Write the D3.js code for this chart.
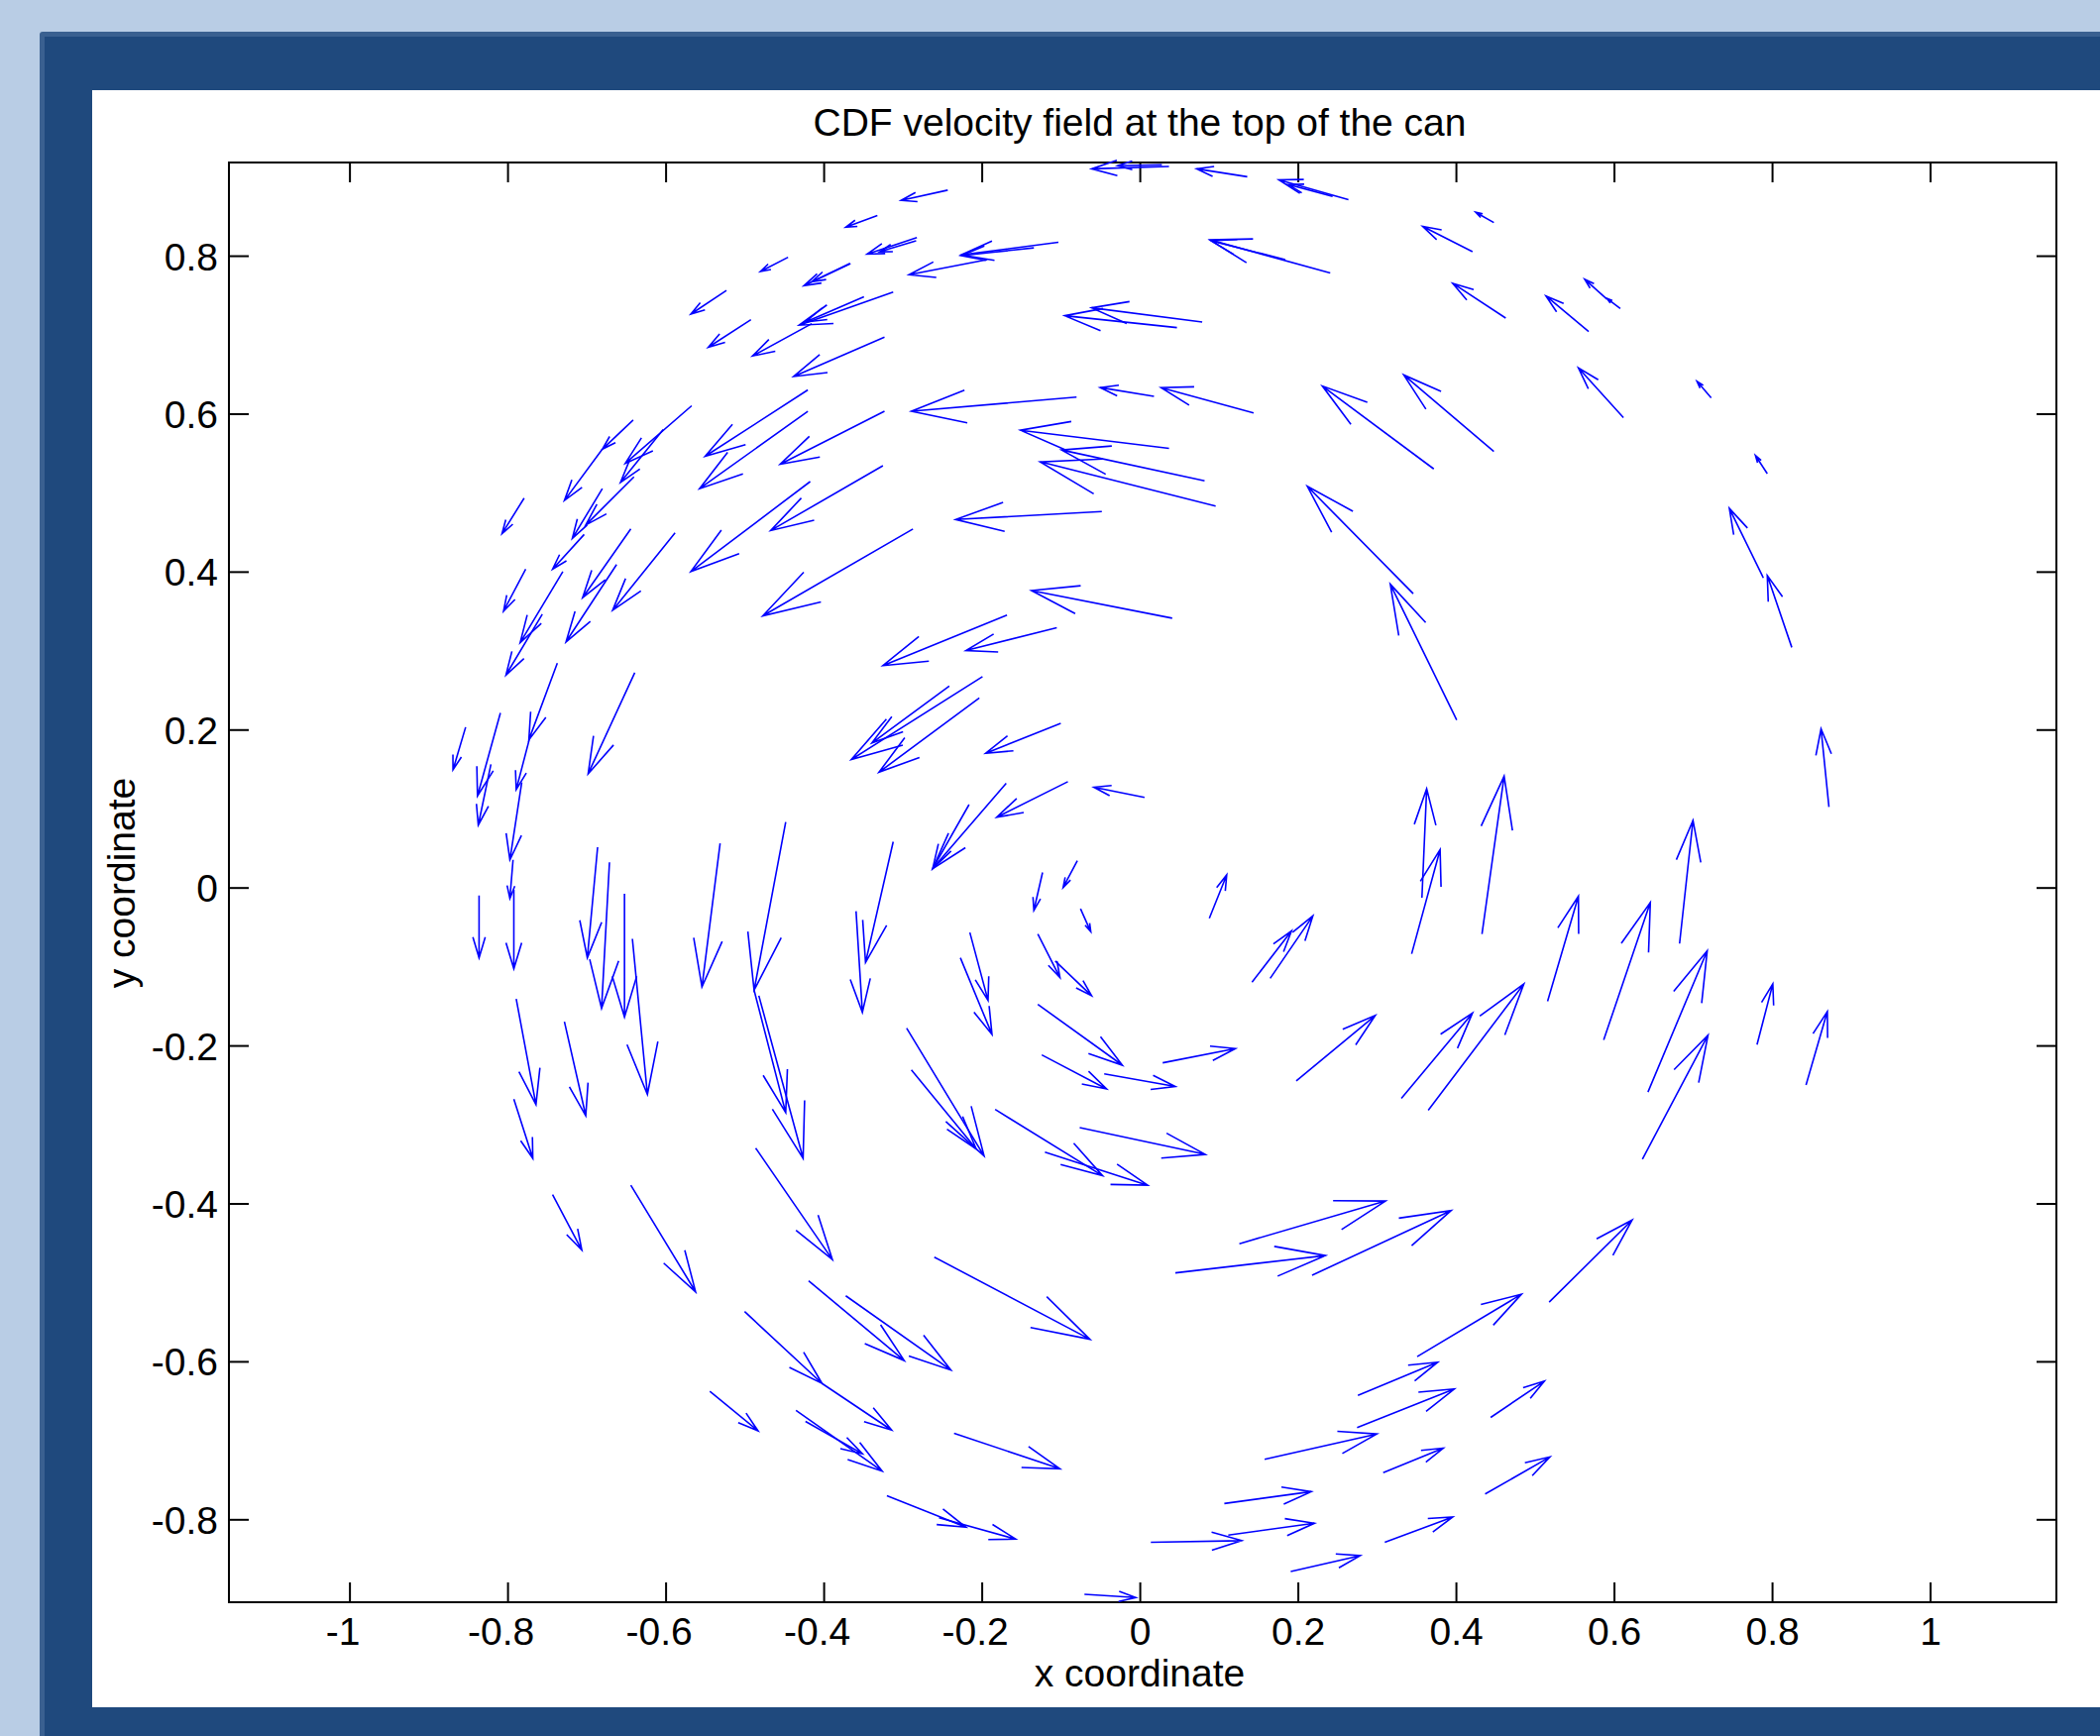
<!DOCTYPE html>
<html>
<head>
<meta charset="utf-8">
<script src="https://cdn.jsdelivr.net/npm/d3@7"></script>
<style>
  html, body { margin: 0; padding: 0; background: #b9cde5; }
  svg { display: block; }
</style>
</head>
<body>
<div id="chart"></div>
<script>
// Quiver data: base point (x, y) and vector (u, v), plot units
const xs = [
  -0.332, -0.282, -0.283, -0.445, -0.366, -0.367, -0.523, -0.492, -0.312, -0.349,
  -0.415, -0.323, -0.420, -0.420, -0.323, -0.325, -0.417, -0.287, -0.641, -0.680,
  -0.567, -0.603, -0.640, -0.680, -0.703, -0.730, -0.756, -0.779, -0.777, -0.644,
  -0.662, -0.588,
  0.037, 0.028, 0.136, 0.264, 0.244, -0.243, -0.103, -0.134, -0.193, 0.241,
  0.184, 0.079, 0.047, 0.372, 0.144, 0.018, -0.080, 0.037, 0.082, 0.096,
  -0.048, 0.346, 0.041, -0.168, -0.105,
  0.448, 0.421, 0.463, 0.568, 0.608, 0.591, 0.448, 0.612, 0.723, 0.794,
  0.789, 0.825, 0.401,
  -0.737, -0.853, -0.809, -0.821, -0.771, -0.782, -0.793, -0.792, -0.836, -0.639,
  -0.686, -0.671, -0.652, -0.642, -0.531, -0.448, -0.312, -0.359, -0.488, -0.482,
  -0.789, -0.728, -0.792, -0.199, -0.203, -0.241,
  -0.100, -0.091, 0.006, -0.169, -0.216, -0.123, -0.079, -0.075, -0.129, -0.107,
  -0.215, -0.227, -0.129, -0.124, -0.045, 0.029, 0.088, 0.142, 0.165, 0.198,
  -0.295, -0.289, -0.183, -0.076, -0.120,
  0.357, 0.344, 0.433, 0.516, 0.587, 0.683, 0.643, 0.636, 0.781, 0.843,
  0.872, 0.331, 0.365,
  -0.743, -0.644, -0.486, -0.500, -0.419, -0.372, -0.402, -0.544, -0.435, -0.423,
  -0.320, -0.254,
  0.126, 0.045, 0.218, -0.260, -0.235, 0.158, 0.276, 0.275, 0.107, 0.014,
  0.112, 0.191, -0.070,
  0.518, 0.351, 0.444, 0.308, 0.437, 0.310
];
const ys = [
  0.851, 0.823, 0.819, 0.798, 0.790, 0.790, 0.756, 0.719, 0.754, 0.748,
  0.714, 0.697, 0.630, 0.603, 0.603, 0.534, 0.514, 0.454, 0.592, 0.555,
  0.610, 0.580, 0.520, 0.505, 0.447, 0.400, 0.346, 0.493, 0.403, 0.454,
  0.409, 0.449,
  0.913, 0.915, 0.900, 0.871, 0.875, 0.883, 0.817, 0.810, 0.795, 0.778,
  0.795, 0.716, 0.709, 0.530, 0.601, 0.622, 0.621, 0.556, 0.515, 0.483,
  0.476, 0.372, 0.341, 0.345, 0.329,
  0.842, 0.805, 0.721, 0.704, 0.733, 0.745, 0.552, 0.595, 0.620, 0.524,
  0.392, 0.304, 0.212,
  0.284, 0.203, 0.221, 0.156, 0.193, 0.133, 0.035, -0.003, -0.010, 0.272,
  0.051, 0.032, -0.008, -0.065, 0.056, 0.083, 0.058, -0.030, -0.130, -0.137,
  -0.141, -0.170, -0.268, 0.267, 0.240, 0.255,
  0.208, 0.134, 0.114, 0.132, 0.105, 0.019, 0.034, -0.027, -0.059, -0.093,
  -0.057, -0.089, -0.148, -0.212, -0.236, -0.222, -0.039, -0.120, -0.115, -0.245,
  -0.178, -0.231, -0.281, -0.304, -0.335,
  -0.013, -0.084, -0.059, -0.144, -0.193, -0.071, -0.259, -0.344, -0.199, -0.250,
  0.102, -0.267, -0.282,
  -0.389, -0.377, -0.330, -0.537, -0.498, -0.517, -0.628, -0.638, -0.662, -0.676,
  -0.770, -0.798,
  -0.451, -0.488, -0.491, -0.468, -0.691, -0.724, -0.643, -0.684, -0.780, -0.829,
  -0.820, -0.866, -0.895,
  -0.525, -0.594, -0.671, -0.741, -0.768, -0.829
];
const us = [
  -0.040, -0.063, -0.046, -0.035, -0.059, -0.048, -0.045, -0.054, -0.119, -0.074,
  -0.075, -0.115, -0.130, -0.137, -0.132, -0.142, -0.151, -0.190, -0.039, -0.048,
  -0.084, -0.054, -0.061, -0.038, -0.040, -0.054, -0.046, -0.028, -0.028, -0.061,
  -0.064, -0.079,
  -0.098, -0.056, -0.064, -0.088, -0.056, -0.059, -0.123, -0.092, -0.099, -0.152,
  -0.094, -0.140, -0.142, -0.141, -0.117, -0.068, -0.209, -0.188, -0.181, -0.222,
  -0.185, -0.134, -0.178, -0.157, -0.115,
  -0.023, -0.063, -0.067, -0.054, -0.017, -0.028, -0.114, -0.057, -0.018, -0.015,
  -0.043, -0.031, -0.084,
  -0.036, -0.016, -0.029, -0.016, -0.018, -0.015, -0.004, 0.000, 0.000, -0.059,
  -0.013, -0.010, 0.000, 0.019, -0.023, -0.040, -0.035, 0.008, 0.040, 0.056,
  0.025, 0.027, 0.024, -0.166, -0.127, -0.098,
  -0.095, -0.090, -0.064, -0.093, -0.046, -0.011, -0.018, 0.013, 0.028, 0.046,
  0.023, 0.040, 0.107, 0.082, 0.090, 0.092, 0.022, 0.050, 0.054, 0.100,
  0.098, 0.082, 0.136, 0.159, 0.130,
  0.006, 0.036, 0.028, 0.039, 0.059, 0.017, 0.075, 0.083, 0.020, 0.027,
  -0.010, 0.090, 0.121,
  0.037, 0.082, 0.097, 0.098, 0.121, 0.133, 0.088, 0.061, 0.109, 0.072,
  0.100, 0.097,
  0.185, 0.190, 0.176, 0.197, 0.134, 0.142, 0.101, 0.123, 0.110, 0.115,
  0.109, 0.088, 0.065,
  0.105, 0.132, 0.068, 0.076, 0.082, 0.086
];
const vs = [
  -0.015, -0.021, -0.014, -0.018, -0.028, -0.023, -0.030, -0.035, -0.042, -0.032,
  -0.041, -0.050, -0.084, -0.098, -0.067, -0.082, -0.114, -0.110, -0.037, -0.065,
  -0.073, -0.067, -0.061, -0.063, -0.044, -0.090, -0.077, -0.045, -0.053, -0.087,
  -0.098, -0.098,
  -0.003, -0.001, 0.010, 0.025, 0.015, -0.013, -0.016, -0.010, -0.019, 0.042,
  0.024, 0.018, 0.015, 0.105, 0.032, 0.011, -0.018, 0.023, 0.039, 0.056,
  -0.010, 0.136, 0.035, -0.064, -0.029,
  0.013, 0.032, 0.044, 0.045, 0.013, 0.025, 0.097, 0.063, 0.021, 0.023,
  0.088, 0.091, 0.172,
  -0.097, -0.054, -0.105, -0.077, -0.069, -0.098, -0.049, -0.100, -0.079, -0.128,
  -0.140, -0.185, -0.156, -0.197, -0.182, -0.213, -0.153, -0.128, -0.155, -0.206,
  -0.134, -0.119, -0.075, -0.105, -0.094, -0.072,
  -0.038, -0.045, 0.013, -0.108, -0.081, -0.048, -0.034, -0.029, -0.055, -0.044,
  -0.086, -0.097, -0.077, -0.043, -0.016, 0.018, 0.055, 0.065, 0.079, 0.083,
  -0.162, -0.100, -0.084, -0.034, -0.042,
  0.138, 0.132, 0.200, 0.133, 0.174, 0.156, 0.179, 0.157, 0.077, 0.093,
  0.099, 0.108, 0.160,
  -0.070, -0.135, -0.141, -0.091, -0.101, -0.094, -0.059, -0.050, -0.077, -0.041,
  -0.040, -0.027,
  0.054, 0.022, 0.082, -0.104, -0.045, 0.032, 0.042, 0.049, 0.015, 0.002,
  0.015, 0.020, -0.004,
  0.104, 0.079, 0.046, 0.031, 0.047, 0.032
];

const xTicks = [-1, -0.8, -0.6, -0.4, -0.2, 0, 0.2, 0.4, 0.6, 0.8, 1];
const yTicks = [-0.8, -0.6, -0.4, -0.2, 0, 0.2, 0.4, 0.6, 0.8];

const width = 2119, height = 1752;
const font = '"Liberation Sans", Arial, Helvetica, sans-serif';
const fontSize = 39;
const box = { left: 231, right: 2075, top: 164, bottom: 1617 };

const svg = d3.select('#chart').append('svg')
    .attr('width', width)
    .attr('height', height);

// Slide-like frame around the figure
svg.append('rect')
    .attr('width', width).attr('height', height)
    .attr('fill', '#b9cde5');
svg.append('rect')
    .attr('x', 40).attr('y', 32)
    .attr('width', width).attr('height', height)
    .attr('rx', 3)
    .attr('fill', '#3a6090');
svg.append('rect')
    .attr('x', 45).attr('y', 37)
    .attr('width', width).attr('height', height)
    .attr('fill', '#1f497d');
svg.append('rect')
    .attr('x', 93).attr('y', 91)
    .attr('width', width - 93).attr('height', 1723 - 91)
    .attr('fill', '#ffffff');

// Scales (axis equal)
const x = d3.scaleLinear()
    .domain([-1.1525, 1.1598])
    .range([box.left, box.right]);
const y = d3.scaleLinear()
    .domain([-0.905, 0.918])
    .range([box.bottom, box.top]);

const fmt = d => String(+d.toFixed(1));

function styleAxis(g) {
    g.select('.domain').remove();
    g.selectAll('.tick line')
        .attr('stroke', '#000')
        .attr('stroke-width', 2);
    g.selectAll('.tick text')
        .attr('fill', '#000')
        .style('font-family', font)
        .style('font-size', fontSize + 'px');
}

// Ticks point inward on all four sides
svg.append('g')
    .attr('transform', `translate(0,${box.bottom})`)
    .call(d3.axisBottom(x).tickValues(xTicks).tickSize(-20).tickPadding(15).tickFormat(fmt))
    .call(styleAxis)
    .selectAll('.tick text')
    .attr('dx', d => d < 0 ? -7 : 0);
svg.append('g')
    .attr('transform', `translate(0,${box.top})`)
    .call(d3.axisTop(x).tickValues(xTicks).tickSize(-20).tickFormat(''))
    .call(styleAxis);
svg.append('g')
    .attr('transform', `translate(${box.left},0)`)
    .call(d3.axisLeft(y).tickValues(yTicks).tickSize(-20).tickPadding(11).tickFormat(fmt))
    .call(styleAxis)
    .selectAll('.tick text').attr('dy', '0.36em');
svg.append('g')
    .attr('transform', `translate(${box.right},0)`)
    .call(d3.axisRight(y).tickValues(yTicks).tickSize(-20).tickFormat(''))
    .call(styleAxis);

svg.append('rect')
    .attr('x', box.left).attr('y', box.top)
    .attr('width', box.right - box.left)
    .attr('height', box.bottom - box.top)
    .attr('fill', 'none')
    .attr('stroke', '#000')
    .attr('stroke-width', 2);

// Quiver arrows, MATLAB style head
const alpha = 0.33, beta = 0.3;
const arrowPath = i => {
    const x0 = xs[i], y0 = ys[i], u = us[i], v = vs[i];
    const tx = x0 + u, ty = y0 + v;
    const b1x = tx - alpha * (u + beta * v), b1y = ty - alpha * (v - beta * u);
    const b2x = tx - alpha * (u - beta * v), b2y = ty - alpha * (v + beta * u);
    return `M${x(x0)},${y(y0)}L${x(tx)},${y(ty)}` +
        `M${x(b1x)},${y(b1y)}L${x(tx)},${y(ty)}L${x(b2x)},${y(b2y)}`;
};

svg.append('g')
    .selectAll('path')
    .data(d3.range(xs.length))
    .enter()
    .append('path')
    .attr('d', arrowPath)
    .attr('fill', 'none')
    .attr('stroke', '#0000ff')
    .attr('stroke-width', 1.6);

// Labels
svg.append('text')
    .attr('x', 1150).attr('y', 137)
    .attr('text-anchor', 'middle')
    .style('font-family', font)
    .style('font-size', fontSize + 'px')
    .text('CDF velocity field at the top of the can');

svg.append('text')
    .attr('x', 1150).attr('y', 1702)
    .attr('text-anchor', 'middle')
    .style('font-family', font)
    .style('font-size', fontSize + 'px')
    .text('x coordinate');

svg.append('text')
    .attr('transform', 'translate(136,891) rotate(-90)')
    .attr('text-anchor', 'middle')
    .style('font-family', font)
    .style('font-size', fontSize + 'px')
    .text('y coordinate');
</script>
</body>
</html>
